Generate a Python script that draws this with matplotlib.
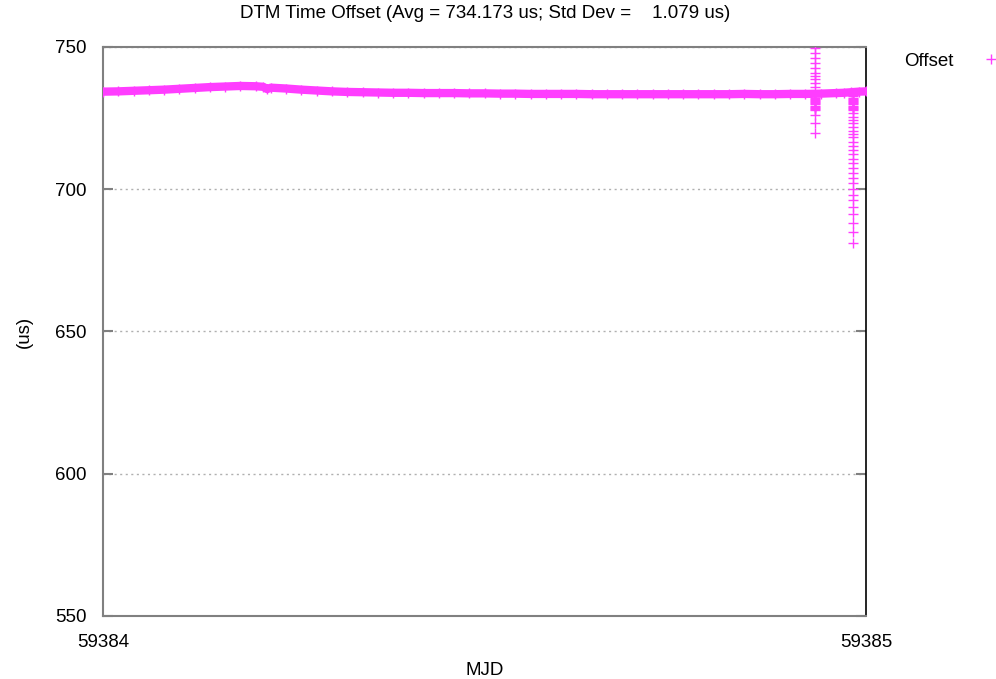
import matplotlib
matplotlib.use("Agg")
import matplotlib.pyplot as plt

plt.rcParams['font.family'] = ['Liberation Sans', 'DejaVu Sans']

MJD0 = 59384

# slow drift of the offset over the day (fraction of day, us)
band_frac = [0.00, 0.02, 0.04, 0.06, 0.08, 0.10, 0.12, 0.14, 0.16, 0.18,
             0.20, 0.21, 0.215, 0.22, 0.24, 0.26, 0.28, 0.30, 0.32, 0.34,
             0.36, 0.38, 0.40, 0.42, 0.44, 0.46, 0.48, 0.50, 0.52, 0.54,
             0.56, 0.58, 0.60, 0.62, 0.64, 0.66, 0.68, 0.70, 0.72, 0.74,
             0.76, 0.78, 0.80, 0.82, 0.84, 0.86, 0.88, 0.90, 0.92, 0.94,
             0.96, 0.97, 0.98, 0.99, 1.00]
band_val = [734.3, 734.4, 734.6, 734.8, 735.0, 735.3, 735.6, 735.9, 736.1, 736.3,
            736.2, 736.0, 735.2, 735.7, 735.4, 735.0, 734.7, 734.4, 734.2, 734.1,
            734.0, 733.9, 733.9, 733.8, 733.8, 733.8, 733.7, 733.7, 733.6, 733.6,
            733.5, 733.5, 733.5, 733.5, 733.4, 733.4, 733.4, 733.4, 733.4, 733.4,
            733.4, 733.4, 733.4, 733.4, 733.5, 733.4, 733.4, 733.5, 733.5, 733.6,
            733.8, 733.9, 734.1, 734.3, 734.4]

# first excursion around MJD 59384.932
spike1_frac = 0.932
spike1_val = [749.5, 747.8, 746.1, 744.4, 742.6, 740.9, 739.7, 738.6, 737.4, 736.0,
              733.0, 732.6, 732.2, 731.8, 731.4, 731.0, 730.6, 730.2, 729.8, 729.4,
              729.0, 728.6, 728.2, 727.9, 726.1, 723.2, 719.9]

# second excursion around MJD 59384.983
spike2_frac = 0.983
spike2_val = [733.0, 732.6, 732.2, 731.8, 731.4, 731.0, 730.6, 730.2, 729.8, 729.4,
              729.0, 728.6, 728.2, 727.9,
              726.7, 725.5, 724.3, 723.2, 722.0, 720.6, 719.4, 718.3, 716.7, 715.2,
              713.8, 712.3, 710.8, 709.2, 707.4, 705.6, 703.9, 702.1, 700.1, 698.0,
              696.3, 693.9, 691.4, 688.1, 684.9, 681.0]

avg = 734.173
std = 1.079

col = '#ff3dff'
gray = '#808080'

fig = plt.figure(figsize=(9.96, 6.79), dpi=100)
ax = fig.add_axes([0.1034, 0.0928, 0.7665, 0.838])

bx = [MJD0 + f for f in band_frac]
ax.plot(bx, band_val, color=col, lw=6, solid_capstyle='butt', zorder=3)
pts, = ax.plot(bx, band_val, '+', color=col, ms=7, mew=1, label='Offset', zorder=4)
ax.plot([MJD0 + spike1_frac] * len(spike1_val), spike1_val, '+', color=col,
        ms=7, mew=1, zorder=4)
ax.plot([MJD0 + spike2_frac] * len(spike2_val), spike2_val, '+', color=col,
        ms=7, mew=1, zorder=4)

ax.set_xlim(MJD0, MJD0 + 1)
ax.set_ylim(550, 750)
ax.set_xticks([MJD0, MJD0 + 1])
ax.set_xticklabels([str(MJD0), str(MJD0 + 1)])
ax.set_yticks([550, 600, 650, 700, 750])

ax.yaxis.grid(True, linestyle=(0, (1.5, 2.5)), color='#b0b0b0', lw=1)
ax.set_axisbelow(True)

for s in ['left', 'top', 'bottom']:
    ax.spines[s].set_color(gray)
    ax.spines[s].set_linewidth(1.5)
ax.spines['right'].set_color('black')
ax.spines['right'].set_linewidth(1.2)

ax.tick_params(axis='y', direction='in', length=7, color=gray, width=1.5,
               right=True, labelsize=13.5, pad=12)
ax.tick_params(axis='x', direction='in', length=0, labelsize=13.5, pad=13)

ax.set_xlabel('MJD', fontsize=13.5, labelpad=8)
ax.set_ylabel('(us)', fontsize=13.5, labelpad=16)
ax.set_title('DTM Time Offset (Avg = %.3f us; Std Dev = %8.3f us)' % (avg, std),
             fontsize=13.5, pad=21)

ax.legend(handles=[pts], loc='upper left', bbox_to_anchor=(0.891, 0.947),
          bbox_transform=fig.transFigure, frameon=False, markerfirst=False,
          fontsize=13.5, handletextpad=1.5, handlelength=1.0)

fig.savefig('out.png', dpi=100)
